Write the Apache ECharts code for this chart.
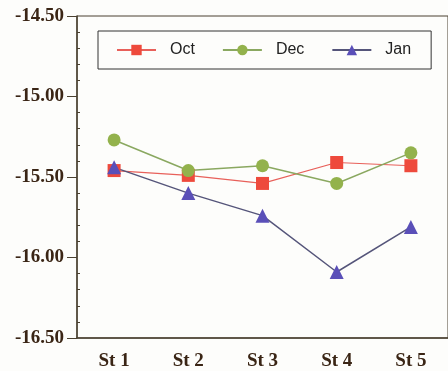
<!DOCTYPE html>
<html><head><meta charset="utf-8">
<script src="https://cdn.jsdelivr.net/npm/echarts@6/dist/echarts.min.js"></script>
<style>html,body{margin:0;padding:0;background:#fdfdfb;}#c{width:448px;height:371px;}</style>
</head><body><div id="c"></div>
<script>
var categories = ['St 1', 'St 2', 'St 3', 'St 4', 'St 5'];
var octValues = [-15.46, -15.49, -15.54, -15.41, -15.43];
var decValues = [-15.27, -15.46, -15.43, -15.54, -15.35];
var janValues = [-15.44, -15.60, -15.74, -16.09, -15.81];
var yMin = -16.5, yMax = -14.5, yStep = 0.5;

var chart = echarts.init(document.getElementById('c'), null, {renderer: 'canvas'});
var axisColor = '#4a4030';
var labelColor = '#3a2515';
chart.setOption({
  backgroundColor: '#fdfdfb',
  animation: false,
  grid: {left: 77, top: 16, width: 375, bottom: 32, show: true, borderColor: axisColor, borderWidth: 1},
  legend: {
    left: 98, top: 31,
    padding: [11, 20, 11, 18],
    itemGap: 27,
    itemWidth: 39, itemHeight: 13,
    borderColor: '#333', borderWidth: 1,
    textStyle: {fontFamily: 'Liberation Sans', fontSize: 16, color: '#222', padding: [0, 4, 0, 9]},
    data: ['Oct', 'Dec', 'Jan']
  },
  xAxis: {
    type: 'category', data: categories, boundaryGap: true,
    axisLine: {lineStyle: {color: axisColor, width: 1.5}},
    axisTick: {length: 6, lineStyle: {color: axisColor}},
    axisLabel: {fontFamily: 'Liberation Serif', fontWeight: 'bold', fontSize: 19, color: labelColor, margin: 14}
  },
  yAxis: [{
    type: 'value', min: yMin, max: yMax, interval: yStep,
    axisLine: {show: true, lineStyle: {color: axisColor, width: 1.5}},
    axisTick: {show: true, length: 10, lineStyle: {color: axisColor}},
    splitLine: {show: false},
    axisLabel: {fontFamily: 'Liberation Serif', fontWeight: 'bold', fontSize: 19, color: labelColor, margin: 13,
      formatter: function (v) { return v.toFixed(2); }}
  }, {
    type: 'value', min: yMin, max: yMax, interval: yStep, position: 'left', offset: 0,
    axisLine: {show: false},
    axisTick: {show: false, inside: true},
    minorTick: {show: true, splitNumber: 5, length: 3, lineStyle: {color: axisColor}},
    splitLine: {show: false},
    axisLabel: {show: false}
  }],
  series: [
    {name: 'Oct', type: 'line', data: octValues, symbol: 'rect', symbolSize: 13,
      itemStyle: {color: '#ee4a3c'}, lineStyle: {color: '#e8605a', width: 1.2}},
    {name: 'Dec', type: 'line', data: decValues, symbol: 'circle', symbolSize: 13,
      itemStyle: {color: '#93b24c'}, lineStyle: {color: '#8aa860', width: 1.5}},
    {name: 'Jan', type: 'line', data: janValues, symbol: 'triangle', symbolSize: 14,
      itemStyle: {color: '#5a4fb8'}, lineStyle: {color: '#55557a', width: 1.5}}
  ]
});
</script></body></html>
